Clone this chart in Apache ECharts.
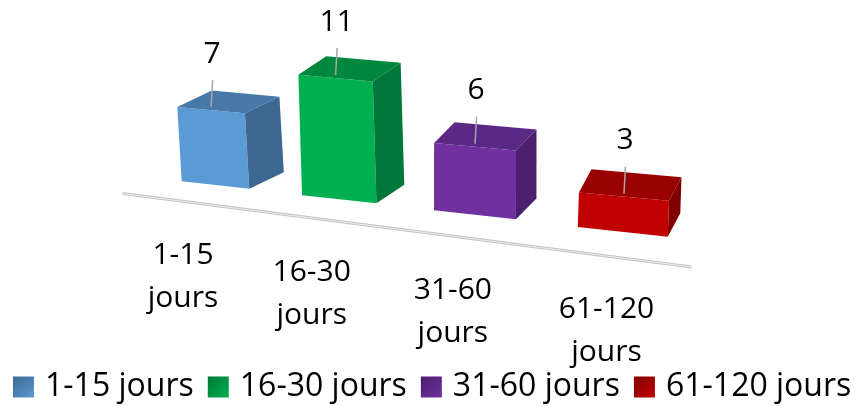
<!DOCTYPE html>
<html>
<head>
<meta charset="utf-8">
<script src="https://cdn.jsdelivr.net/npm/echarts@6/dist/echarts.min.js"></script>
<style>
  html, body { margin: 0; padding: 0; background: #fff; }
  #chart { width: 855px; height: 406px; }
</style>
</head>
<body>
<div id="chart"></div>
<script>
const categories = ['1-15\njours', '16-30\njours', '31-60\njours', '61-120\njours'];
const legendNames = ['1-15 jours', '16-30 jours', '31-60 jours', '61-120 jours'];
const values = [7, 11, 6, 3];
const frontColors = ['#5b9bd5', '#00b050', '#7030a0', '#c00000'];
const topColors = ['#4878a8', '#00873e', '#5a2985', '#990000'];
const sideColors = ['#3d6790', '#00783a', '#4a1f6e', '#800000'];

const FONT = '"Open Sans", "Noto Sans", sans-serif';

// 3D view: bars get wider / closer toward the right, floor tilts down
const persp = {
  spread: 0.867, curve: 0.0442,
  floorSlope: 0.115,
  bottomSlope: 0.11, topSlope: 0.09,
  widthRatio: 0.498, widthGrow: 0.000814,
  heightGain: 1.157, heightGrow: 0.000234,
  leanCenter: 254.5, lean: 0.00023,
  depthX: 34.5, depthXGrow: -0.054,
  depthY: -16.5, depthYGrow: -0.017
};

const chart = echarts.init(document.getElementById('chart'));

function poly(points, color) {
  return { type: 'polygon', shape: { points: points }, style: { fill: color } };
}

function renderBar(params, api) {
  const i = api.value(0);
  const v = api.value(1);
  const origin = api.coord([0, 0]);
  const base = api.coord([i, 0]);
  const top = api.coord([i, v]);
  const band = api.size([1, 0])[0];

  const t = (base[0] - origin[0]) / band;
  const cx = origin[0] + band * (persp.spread * t + persp.curve * t * t);
  const dxs = cx - origin[0];
  const yc = origin[1] + persp.floorSlope * dxs;
  const w = band * persp.widthRatio * (1 + dxs * persp.widthGrow);
  const h = (base[1] - top[1]) * persp.heightGain * (1 + dxs * persp.heightGrow);
  const cxT = cx + (dxs - persp.leanCenter) * persp.lean * h;
  const yT = yc - h;
  const dX = persp.depthX + persp.depthXGrow * dxs;
  const dY = persp.depthY + persp.depthYGrow * dxs;

  const BL = [cx - w / 2, yc - persp.bottomSlope * w / 2];
  const BR = [cx + w / 2, yc + persp.bottomSlope * w / 2];
  const TL = [cxT - w / 2, yT - persp.topSlope * w / 2];
  const TR = [cxT + w / 2, yT + persp.topSlope * w / 2];
  const back = p => [p[0] + dX, p[1] + dY];

  const children = [];

  // floor line (front edge of the floor), drawn once
  if (params.seriesIndex === 0) {
    const fx1 = origin[0] - 93, fx2 = origin[0] + 476;
    const fy = x => origin[1] + 20.6 + 0.129 * (x - origin[0]);
    children.push({
      type: 'line', shape: { x1: fx1, y1: fy(fx1), x2: fx2, y2: fy(fx2) },
      style: { stroke: '#c4c4c4', lineWidth: 3 }
    });
    children.push({
      type: 'line', shape: { x1: fx1, y1: fy(fx1), x2: fx2, y2: fy(fx2) },
      style: { stroke: '#ececec', lineWidth: 1 }
    });
  }

  children.push(poly([BL, BR, TR, TL], frontColors[i]));
  children.push(poly([TL, TR, back(TR), back(TL)], topColors[i]));
  children.push(poly([TR, BR, back(BR), back(TR)], sideColors[i]));

  // leader + value label
  const endY = yT - 3;
  const startY = endY - 27;
  children.push({
    type: 'line', shape: { x1: cxT, y1: endY, x2: cxT + 1.5, y2: startY },
    style: { stroke: '#a6a6a6', lineWidth: 1.5 }
  });
  children.push({
    type: 'text',
    style: {
      text: String(v), x: cxT + 1, y: startY - 26,
      fill: '#000', fontFamily: FONT, fontSize: 30,
      align: 'center', verticalAlign: 'middle'
    }
  });

  // category label in front of the floor
  const lx = cx - 32.5 + 0.04 * dxs;
  const ly = yc + 70.5 + 0.018 * dxs;
  children.push({
    type: 'text',
    style: {
      text: categories[i], x: lx, y: ly - 21.5,
      fill: '#000', fontFamily: FONT, fontSize: 30, lineHeight: 43,
      align: 'center', verticalAlign: 'top'
    }
  });

  return { type: 'group', children: children };
}

const series = values.map((val, i) => ({
  name: legendNames[i],
  type: 'custom',
  renderItem: renderBar,
  clip: false,
  itemStyle: {
    color: {
      type: 'linear', x: 0, y: 0, x2: 1, y2: 1,
      colorStops: [
        { offset: 0, color: sideColors[i] },
        { offset: 1, color: frontColors[i] }
      ]
    }
  },
  encode: { x: 0, y: 1 },
  data: [[i, val]]
}));

chart.setOption({
  animation: false,
  grid: { left: 147.6, width: 543.2, top: 0, bottom: 221 },
  xAxis: { type: 'category', data: categories, show: false },
  yAxis: { type: 'value', min: 0, max: 20, show: false },
  legend: {
    left: 13, top: 370, padding: 0,
    itemWidth: 21, itemHeight: 21, itemGap: 14,
    icon: 'rect',
    textStyle: { fontFamily: FONT, fontSize: 32, color: '#000', padding: [0, 0, 0, 6], lineHeight: 34 },
    data: legendNames
  },
  series: series
});
</script>
</body>
</html>
